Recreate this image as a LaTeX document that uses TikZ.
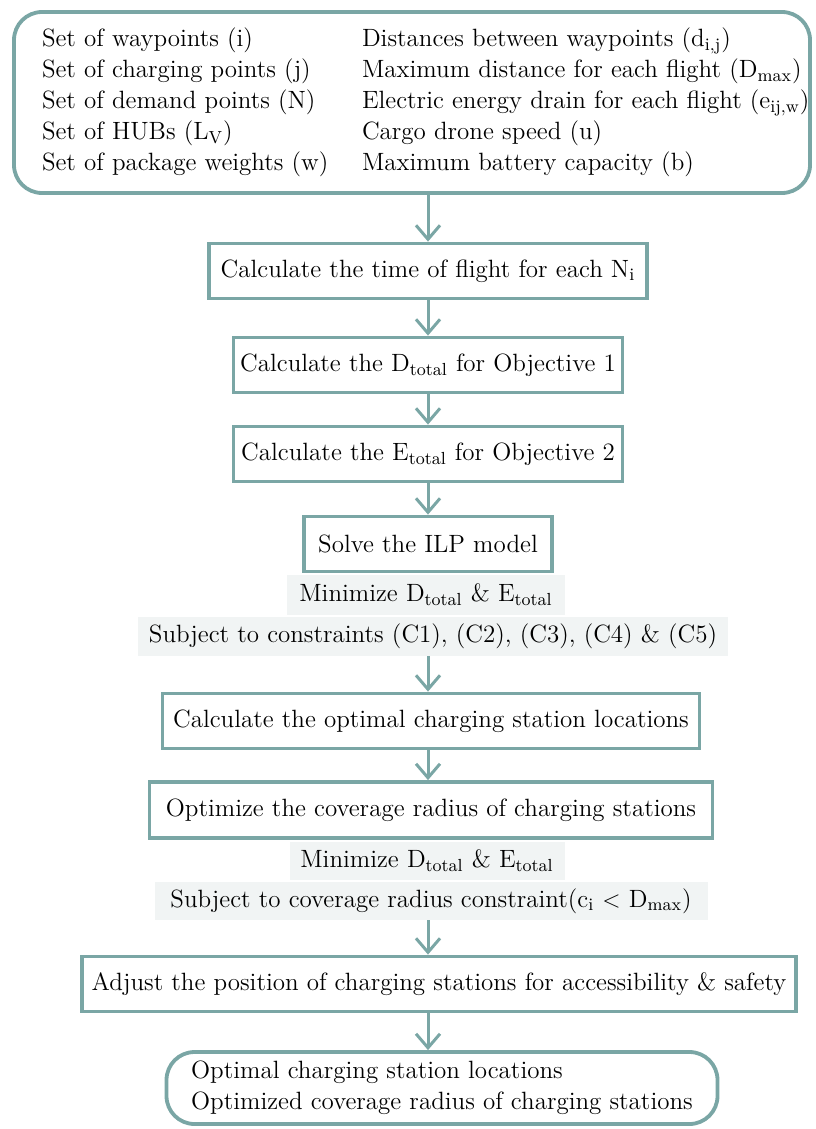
\documentclass[tikz,border=0pt]{standalone}
\usetikzlibrary{arrows.meta}
\definecolor{frame}{HTML}{7AA6A5}
\definecolor{paper}{HTML}{F1F4F4}
\tikzset{stepbox/.style={draw=frame,line width=1.9pt,fill=white,align=center,inner sep=0pt,minimum height=27.5pt,font=\fontsize{12.5}{15.5}\selectfont},endbox/.style={stepbox,rounded corners=14pt,align=left},cond/.style={fill=paper,inner sep=0pt,minimum height=19.5pt,align=center,font=\fontsize{12.5}{15.5}\selectfont},flow/.style={-{Straight Barb[length=7pt,width=12pt,line width=1.5pt]},line width=1.5pt,draw=frame}}

\begin{document}
\begin{tikzpicture}[x=0.5pt,y=-0.5pt]
\useasboundingbox (0,0) rectangle (815,1129);
\node[endbox,minimum width=398pt,minimum height=90.5pt,inner xsep=14pt] (inputs) at (412,102.5) {\makebox[370pt][l]{\begin{tabular}{@{}p{160pt}@{}l@{}}
Set of waypoints (i) & Distances between waypoints (d\textsubscript{i,j})\\
Set of charging points (j) & Maximum distance for each flight (D\textsubscript{max})\\
Set of demand points (N) & Electric energy drain for each flight (e\textsubscript{ij,w})\\
Set of HUBs (L\textsubscript{V}) & Cargo drone speed (u)\\
Set of package weights (w) & Maximum battery capacity (b)
\end{tabular}}};
\node[stepbox,minimum width=219pt] (tof) at (428,271) {Calculate the time of flight for each N\textsubscript{i}};
\node[stepbox,minimum width=194.5pt] (dtot) at (428,365) {Calculate the D\textsubscript{total} for Objective 1};
\node[stepbox,minimum width=194.5pt] (etot) at (428,454) {Calculate the E\textsubscript{total} for Objective 2};
\node[stepbox,minimum width=124pt] (ilp) at (428,544) {Solve the ILP model};
\node[cond,minimum width=139pt,minimum height=20pt] (min1) at (426,595) {Minimize D\textsubscript{total} \& E\textsubscript{total}};
\node[cond,minimum width=295pt] (sub1) at (433,636.5) {Subject to constraints (C1), (C2), (C3), (C4) \& (C5)};
\node[stepbox,minimum width=268.5pt] (loc) at (431,721) {Calculate the optimal charging station locations};
\node[stepbox,minimum width=281.5pt,minimum height=28pt] (rad) at (431,810) {Optimize the coverage radius of charging stations};
\node[cond,minimum width=137.5pt,minimum height=19pt] (min2) at (427,861) {Minimize D\textsubscript{total} \& E\textsubscript{total}};
\node[cond,minimum width=276.5pt,minimum height=19pt] (sub2) at (431,901) {Subject to coverage radius constraint(c\textsubscript{i} $<$ D\textsubscript{max})};
\node[stepbox,minimum width=357pt] (adj) at (439,984) {Adjust the position of charging stations for accessibility \& safety};
\node[endbox,minimum width=275.5pt,minimum height=36pt] (out) at (442,1088) {Optimal charging station locations\\Optimized coverage radius of charging stations};
% connectors
\draw[flow] (inputs.south -| tof.north)--(tof.north);
\draw[flow] (tof)--(dtot);\draw[flow] (dtot)--(etot);\draw[flow] (etot)--(ilp);
\draw[flow] (sub1.south -| tof)--(loc.north -| tof);
\draw[flow] (loc.south -| tof)--(rad.north -| tof);
\draw[flow] (sub2.south -| tof)--(adj.north -| tof);
\draw[flow] (adj.south -| tof)--(out.north -| tof);
\end{tikzpicture}
\end{document}
